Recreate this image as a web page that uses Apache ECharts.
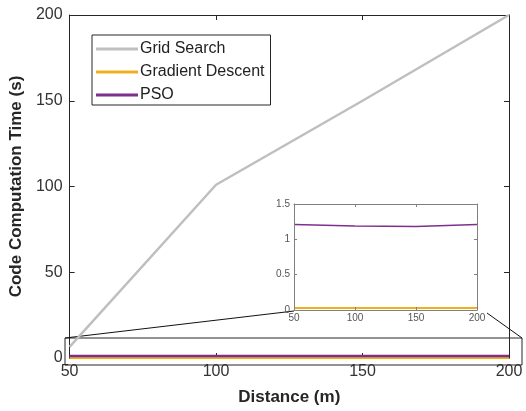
<!DOCTYPE html>
<html>
<head>
<meta charset="utf-8">
<script src="https://cdn.jsdelivr.net/npm/echarts@6/dist/echarts.min.js"></script>
<style>
  html, body { margin: 0; padding: 0; background: #fff; }
  #chart { width: 526px; height: 411px; }
</style>
</head>
<body>
<div id="chart"></div>
<script>
// 数据
var distances = [50, 100, 150, 200]
var gridSearch = [6.5, 101, 150, 200]
var gradientDescent = [0.03, 0.03, 0.03, 0.03]
var pso = [1.21, 1.19, 1.18, 1.21]

var mainTicks = [0, 50, 100, 150, 200]
var insetTicks = [0, 0.5, 1, 1.5]

var colGrid = '#bfbfbf'
var colGrad = '#edb120'
var colPso = '#7e2f8e'
var axisCol = '#262626'
var font = 'Liberation Sans, Arial, sans-serif'

function pairs(ys) {
  return distances.map(function (d, i) { return [d, ys[i]] })
}

var chart = echarts.init(document.getElementById('chart'))

// 坐标轴（带镜像刻度，模拟 box on）
function xAx(grid, pos, showLabel, size, col) {
  return {
    type: 'value', gridIndex: grid, position: pos, z: grid === 0 ? 0 : 10,
    min: 50, max: 200, interval: 50,
    axisLine: { show: true, onZero: false, lineStyle: { color: col, width: 1 } },
    axisTick: { show: true, inside: true, length: grid === 0 ? 5 : 3, lineStyle: { color: col } },
    axisLabel: { show: showLabel, fontSize: size, color: grid === 0 ? '#333' : '#555', fontFamily: font, margin: grid === 0 ? 6 : 3 },
    splitLine: { show: false }
  }
}
function yAx(grid, pos, showLabel, size, col, max, interval) {
  return {
    type: 'value', gridIndex: grid, position: pos, z: grid === 0 ? 0 : 10,
    min: 0, max: max, interval: interval,
    axisLine: { show: true, onZero: false, lineStyle: { color: col, width: 1 } },
    axisTick: { show: true, inside: true, length: grid === 0 ? 5 : 3, lineStyle: { color: col } },
    axisLabel: { show: showLabel, fontSize: size, color: grid === 0 ? '#333' : '#555', fontFamily: font, margin: grid === 0 ? 7 : 4 },
    splitLine: { show: false }
  }
}

var xMain = xAx(0, 'bottom', true, 16, axisCol)
xMain.name = 'Distance (m)'
xMain.nameLocation = 'middle'
xMain.nameGap = 31
xMain.nameTextStyle = { fontSize: 17, fontWeight: 'bold', color: '#262626', fontFamily: font }

var yMain = yAx(0, 'left', true, 16, axisCol, 200, 50)
yMain.name = 'Code Computation Time (s)'
yMain.nameLocation = 'middle'
yMain.nameGap = 38
yMain.nameTextStyle = { fontSize: 17, fontWeight: 'bold', color: '#262626', fontFamily: font }

var option = {
  animation: false,
  backgroundColor: '#fff',
  grid: [
    { left: 69, right: 17, top: 15, bottom: 50 },
    { left: 294, top: 204, width: 183, height: 106, show: true, backgroundColor: '#fff', borderWidth: 0, z: 5 }
  ],
  legend: {
    orient: 'vertical',
    left: 92, top: 35,
    data: [
      { name: 'Grid Search', icon: 'rect' },
      { name: 'Gradient Descent', icon: 'rect' },
      { name: 'PSO', icon: 'rect' }
    ],
    backgroundColor: '#fff',
    borderColor: '#262626', borderWidth: 1,
    padding: [6, 6, 2, 4],
    itemGap: 7,
    itemWidth: 42, itemHeight: 3,
    textStyle: { fontSize: 16, color: '#222', fontFamily: font, padding: [0, 0, 0, -3], lineHeight: 16 }
  },
  xAxis: [
    xMain,
    xAx(0, 'top', false, 16, axisCol),
    xAx(1, 'bottom', true, 10, '#808080'),
    xAx(1, 'top', false, 10, '#808080')
  ],
  yAxis: [
    yMain,
    yAx(0, 'right', false, 16, axisCol, 200, 50),
    yAx(1, 'left', true, 10, '#808080', 1.5, 0.5),
    yAx(1, 'right', false, 10, '#808080', 1.5, 0.5)
  ],
  series: [
    { name: 'Grid Search', type: 'line', xAxisIndex: 0, yAxisIndex: 0, data: pairs(gridSearch),
      symbol: 'none', lineStyle: { color: colGrid, width: 2.5 }, itemStyle: { color: colGrid } },
    { name: 'Gradient Descent', type: 'line', xAxisIndex: 0, yAxisIndex: 0, data: pairs(gradientDescent),
      symbol: 'none', lineStyle: { color: colGrad, width: 2.5 }, itemStyle: { color: colGrad } },
    { name: 'PSO', type: 'line', xAxisIndex: 0, yAxisIndex: 0, data: pairs(pso),
      symbol: 'none', lineStyle: { color: colPso, width: 2.5 }, itemStyle: { color: colPso } },
    { name: 'Gradient Descent', type: 'line', xAxisIndex: 2, yAxisIndex: 2, data: pairs(gradientDescent),
      symbol: 'none', z: 6, lineStyle: { color: colGrad, width: 2 }, itemStyle: { color: colGrad } },
    { name: 'PSO', type: 'line', xAxisIndex: 2, yAxisIndex: 2, data: pairs(pso),
      symbol: 'none', z: 6, lineStyle: { color: colPso, width: 1.5 }, itemStyle: { color: colPso } }
  ],
  // 放大框与连线
  graphic: [
    { type: 'rect', shape: { x: 65, y: 338, width: 457, height: 27 }, z: 1,
      style: { fill: 'none', stroke: '#262626', lineWidth: 1 } },
    { type: 'line', shape: { x1: 65, y1: 338, x2: 294, y2: 311 }, z: 1,
      style: { stroke: '#111', lineWidth: 1 } },
    { type: 'line', shape: { x1: 487, y1: 313, x2: 522, y2: 338 }, z: 1,
      style: { stroke: '#111', lineWidth: 1 } }
  ]
}

chart.setOption(option)
</script>
</body>
</html>
